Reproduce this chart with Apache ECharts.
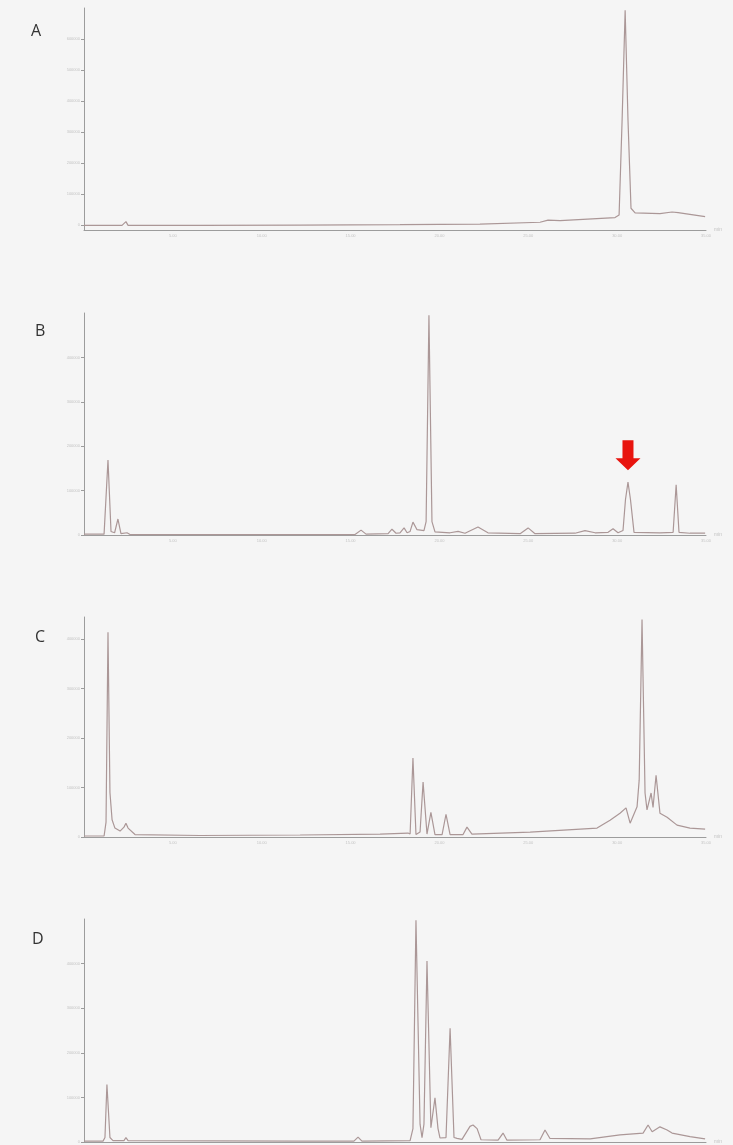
<!DOCTYPE html>
<html>
<head>
<meta charset="utf-8">
<script src="https://cdn.jsdelivr.net/npm/echarts@6/dist/echarts.min.js"></script>
<style>
  html, body { margin: 0; padding: 0; background: #f5f5f5; }
  #main { width: 733px; height: 1145px; }
</style>
</head>
<body>
<div id="main"></div>
<script>
// retention time (min) and signal
var timeA = [0, 2.14, 2.25, 2.36, 2.48, 6.53, 12.16, 17.78, 22.28, 25.66, 26.11, 26.79, 29.88, 30.11, 30.28, 30.45, 30.61, 30.78, 31.01, 32.41, 33.09, 33.43, 34.95];
var sigA  = [0, 0, -0.06, 0.12, 0, 0, 0.01, 0.02, 0.04, 0.1, 0.17, 0.15, 0.25, 0.33, 3.4, 6.93, 3.4, 0.55, 0.4, 0.38, 0.43, 0.41, 0.28];

var timeB = [0, 1.13, 1.24, 1.35, 1.52, 1.72, 1.91, 2.08, 2.42, 2.59, 15.25, 15.59, 15.87, 17.11, 17.33, 17.56, 17.78, 18.01, 18.18, 18.35, 18.51, 18.74, 19.13, 19.25, 19.41, 19.58, 19.75, 20.6, 21.05, 21.44, 22.17, 22.73, 24.54, 24.99, 25.38, 27.63, 28.19, 28.76, 29.49, 29.77, 30.05, 30.33, 30.47, 30.61, 30.75, 30.95, 32.41, 33.15, 33.32, 33.48, 34.1, 34.95];
var sigB  = [0.02, 0.02, 0.05, 1.69, 0.08, 0.05, 0.36, 0.03, 0.05, 0.01, 0.01, 0.11, 0.02, 0.03, 0.13, 0.04, 0.05, 0.16, 0.05, 0.08, 0.29, 0.12, 0.1, 0.3, 4.95, 0.3, 0.07, 0.05, 0.08, 0.04, 0.18, 0.05, 0.03, 0.16, 0.03, 0.04, 0.1, 0.05, 0.06, 0.14, 0.05, 0.1, 0.8, 1.19, 0.8, 0.06, 0.05, 0.06, 1.13, 0.06, 0.04, 0.04];
var arrowPeakB = [30.61, 1.19];

var timeC = [0, 1.13, 1.24, 1.35, 1.46, 1.58, 1.74, 2.03, 2.25, 2.36, 2.48, 2.87, 6.53, 12.16, 16.66, 18.23, 18.35, 18.51, 18.68, 18.91, 19.08, 19.3, 19.52, 19.75, 20.15, 20.37, 20.6, 21.33, 21.55, 21.83, 25.1, 28.87, 29.6, 30.16, 30.5, 30.73, 31.12, 31.24, 31.4, 31.57, 31.68, 31.91, 32.02, 32.19, 32.41, 32.81, 33.37, 34.1, 34.95];
var sigC  = [0.02, 0.02, 0.3, 4.14, 0.9, 0.35, 0.18, 0.12, 0.2, 0.28, 0.18, 0.05, 0.03, 0.04, 0.06, 0.08, 0.06, 1.6, 0.05, 0.1, 1.11, 0.06, 0.5, 0.05, 0.05, 0.46, 0.05, 0.05, 0.2, 0.06, 0.1, 0.18, 0.34, 0.48, 0.59, 0.28, 0.61, 1.15, 4.4, 0.89, 0.55, 0.89, 0.6, 1.25, 0.48, 0.4, 0.24, 0.18, 0.16];

var timeD = [0, 1.07, 1.18, 1.29, 1.46, 1.63, 2.25, 2.36, 2.48, 12.16, 15.19, 15.42, 15.64, 18.35, 18.51, 18.68, 18.91, 19.02, 19.13, 19.3, 19.52, 19.75, 19.92, 20.03, 20.37, 20.6, 20.82, 20.99, 21.27, 21.72, 21.89, 22.12, 22.34, 23.3, 23.58, 23.8, 25.66, 25.94, 26.22, 28.48, 30.16, 31.46, 31.74, 31.97, 32.41, 32.81, 33.09, 34.1, 34.95];
var sigD  = [0.02, 0.02, 0.1, 1.29, 0.1, 0.03, 0.03, 0.1, 0.03, 0.02, 0.02, 0.11, 0.02, 0.03, 0.3, 4.97, 0.4, 0.1, 0.4, 4.06, 0.32, 0.99, 0.3, 0.09, 0.1, 2.55, 0.1, 0.08, 0.06, 0.35, 0.38, 0.3, 0.05, 0.04, 0.2, 0.04, 0.05, 0.27, 0.08, 0.07, 0.16, 0.2, 0.38, 0.23, 0.34, 0.27, 0.2, 0.12, 0.07];

var panelNames = ['A', 'B', 'C', 'D'];
var xTicks = [5, 10, 15, 20, 25, 30, 35];
var yTicksA = [0, 1, 2, 3, 4, 5, 6];
var yTicksB = [0, 1, 2, 3, 4];
var yTicksC = [0, 1, 2, 3, 4];
var yTicksD = [0, 1, 2, 3, 4];

function pairs(t, v) {
  return t.map(function (x, i) { return [x, v[i]]; });
}

var chart = echarts.init(document.getElementById('main'), null, { renderer: 'canvas' });

var grids = [
  { left: 84, top: 8, width: 622, height: 222 },
  { left: 84, top: 313, width: 622, height: 222 },
  { left: 84, top: 617, width: 622, height: 220 },
  { left: 84, top: 919, width: 622, height: 223 }
];
var yRanges = [[-0.15, 7], [0, 5], [0, 4.45], [0, 5]];
var yTicks = [yTicksA, yTicksB, yTicksC, yTicksD];
var titleTops = [23, 323, 629, 931];
var titleLefts = [31, 35, 35, 32];
var lineColor = '#ab9797';
var axisColor = '#9c9c9c';

var xAxes = [], yAxes = [], titles = [];
for (var i = 0; i < 4; i++) {
  grids[i].containLabel = false;
  grids[i].outerBoundsMode = 'none';
  xAxes.push({
    type: 'value', gridIndex: i, min: 0, max: 35,
    splitLine: { show: false },
    axisLine: { onZero: false, lineStyle: { color: axisColor, width: 1 } },
    axisTick: { show: false },
    axisLabel: {
      customValues: xTicks, fontSize: 4, color: '#c4c4c4', margin: 4,
      formatter: function (v) { return v.toFixed(2); }
    },
    name: 'min', nameGap: 8,
    nameTextStyle: { fontSize: 5, color: '#c4c4c4' }
  });
  yAxes.push({
    type: 'value', gridIndex: i, min: yRanges[i][0], max: yRanges[i][1],
    splitLine: { show: false },
    axisLine: { show: true, lineStyle: { color: axisColor, width: 1 } },
    axisTick: { show: true, customValues: yTicks[i], length: 3, lineStyle: { color: axisColor } },
    axisLabel: {
      customValues: yTicks[i], fontSize: 4, color: '#c4c4c4', margin: 4,
      formatter: function (v) { return (v * 100000).toFixed(0); }
    }
  });
  titles.push({
    text: panelNames[i], left: titleLefts[i], top: titleTops[i], padding: 0,
    textStyle: { fontFamily: 'Open Sans', fontWeight: 'normal', fontSize: 16, color: '#333333' }
  });
}

var traces = [pairs(timeA, sigA), pairs(timeB, sigB), pairs(timeC, sigC), pairs(timeD, sigD)];
var series = traces.map(function (d, i) {
  return {
    type: 'line', xAxisIndex: i, yAxisIndex: i, data: d,
    showSymbol: false, smooth: false,
    lineStyle: { color: lineColor, width: 1.2 },
    itemStyle: { color: lineColor }
  };
});
series[1].markPoint = {
  symbol: 'path://M7,0 L18,0 L18,18 L25,18 L12.5,30 L0,18 L7,18 Z',
  symbolSize: [25, 30],
  symbolOffset: [0, -27],
  itemStyle: { color: '#e8140e' },
  label: { show: false },
  data: [{ coord: arrowPeakB }]
};

chart.setOption({
  backgroundColor: '#f5f5f5',
  animation: false,
  title: titles,
  grid: grids,
  xAxis: xAxes,
  yAxis: yAxes,
  series: series
});
</script>
</body>
</html>
